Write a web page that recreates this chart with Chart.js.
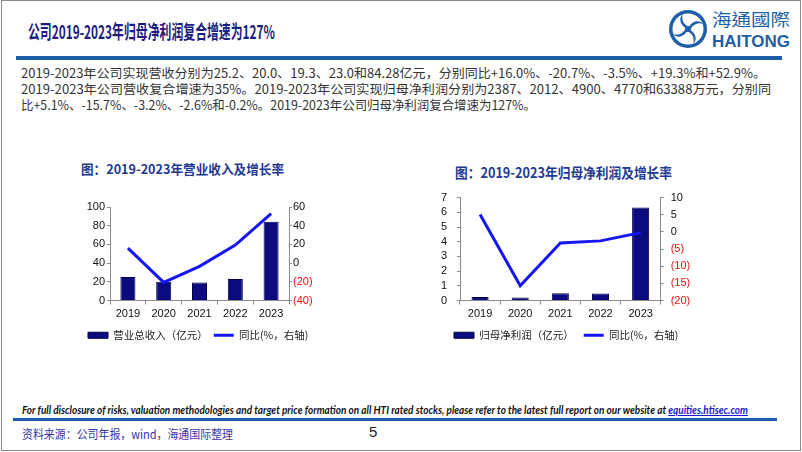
<!DOCTYPE html>
<html><head><meta charset="utf-8">
<script src="https://cdn.jsdelivr.net/npm/chart.js@4.4.1/dist/chart.umd.min.js"></script>
<style>
html,body{margin:0;padding:0;background:#fff;}
body{width:802px;height:452px;position:relative;overflow:hidden;font-family:"Noto Sans CJK SC","Noto Sans",sans-serif;}
.t{position:absolute;white-space:nowrap;}
.t span.f{display:inline-block;transform-origin:0 50%;}
#frame{position:absolute;left:1px;top:0;width:798px;height:449px;border:1px solid #8a8a8a;}
.band{position:absolute;background:#1d5ca8;}
canvas{position:absolute;}
</style></head>
<body>
<div id="frame"></div>

<div class="t" style="left:28px;top:19px;height:24px;line-height:24px;font-size:19px;font-weight:700;color:#1b1b80;"><span class="f" data-w="247">公司2019-2023年归母净利润复合增速为127%</span></div>
<svg style="position:absolute;left:664px;top:6px" width="134" height="48" viewBox="0 0 134 48">
  <circle cx="24" cy="23" r="19" fill="#1f5fa8"/>
  <circle cx="24" cy="23" r="15.5" fill="#fff"/>
  <g transform="translate(24,23)" fill="#1f5fa8">
    <path d="M0,0 C3,-8 11,-10 15,-5 C10,-7 5,-5 2,1 Z"/>
    <path d="M0,0 C3,-8 11,-10 15,-5 C10,-7 5,-5 2,1 Z" transform="rotate(90)"/>
    <path d="M0,0 C3,-8 11,-10 15,-5 C10,-7 5,-5 2,1 Z" transform="rotate(180)"/>
    <path d="M0,0 C3,-8 11,-10 15,-5 C10,-7 5,-5 2,1 Z" transform="rotate(270)"/>
    <circle cx="0" cy="0" r="3"/>
  </g>
  <text x="48" y="20" font-family="Noto Sans CJK TC" font-size="17" fill="#1f5fa8" textLength="78" lengthAdjust="spacingAndGlyphs">海通國際</text>
  <text x="48" y="41" font-family="Liberation Sans" font-weight="700" font-size="16" fill="#1f5fa8" textLength="78" lengthAdjust="spacingAndGlyphs">HAITONG</text>
</svg>
<div class="band" style="left:16px;top:56px;width:766px;height:4px;"></div>

<div class="t" style="left:21px;top:65px;height:16px;line-height:16px;font-size:12.5px;color:#333;"><span class="f" data-w="745">2019-2023年公司实现营收分别为25.2、20.0、19.3、23.0和84.28亿元，分别同比+16.0%、-20.7%、-3.5%、+19.3%和+52.9%。</span></div>
<div class="t" style="left:21px;top:81px;height:16px;line-height:16px;font-size:12.5px;color:#333;"><span class="f" data-w="750">2019-2023年公司营收复合增速为35%。2019-2023年公司实现归母净利润分别为2387、2012、4900、4770和63388万元，分别同</span></div>
<div class="t" style="left:21px;top:97px;height:16px;line-height:16px;font-size:12.5px;color:#333;"><span class="f" data-w="515">比+5.1%、-15.7%、-3.2%、-2.6%和-0.2%。2019-2023年公司归母净利润复合增速为127%。</span></div>

<div class="t" style="left:81px;top:161px;height:16px;line-height:16px;font-size:13px;font-weight:700;color:#1f3a93;"><span class="f" data-w="203">图：2019-2023年营业收入及增长率</span></div>
<div class="t" style="left:455px;top:164px;height:16px;line-height:16px;font-size:14px;font-weight:700;color:#1f3a93;"><span class="f" data-w="217">图：2019-2023年归母净利润及增长率</span></div>

<canvas id="c1" width="280" height="176" style="left:40px;top:175px;"></canvas>
<canvas id="c2" width="310" height="171" style="left:400px;top:180px;"></canvas>

<div class="t" style="left:22px;top:403px;height:14px;line-height:14px;font-size:10.5px;font-weight:700;font-style:italic;font-family:Lato,'Open Sans',sans-serif;color:#111;"><span class="f" data-w="726">For full disclosure of risks, valuation methodologies and target price formation on all HTI rated stocks, please refer to the latest full report on our website at <span style="color:#1a1acc;text-decoration:underline;">equities.htisec.com</span></span></div>
<div class="band" style="left:13px;top:418px;width:764px;height:3px;"></div>
<div class="t" style="left:22px;top:426px;height:16px;line-height:16px;font-size:12px;color:#3535a5;"><span class="f" data-w="211">资料来源：公司年报，wind，海通国际整理</span></div>
<div class="t" style="left:369px;top:423px;height:18px;line-height:18px;font-size:15px;color:#222;font-family:'Liberation Sans',sans-serif;">5</div>

<script>
// ---- data ----
const years = ['2019', '2020', '2021', '2022', '2023'];
const revenue = [25.2, 20.0, 19.3, 23.0, 84.28];          // 亿元
const revenueYoY = [16.0, -20.7, -3.5, 19.3, 52.9];      // %
const profit = [0.2387, 0.2012, 0.4900, 0.4770, 6.3388]; // 亿元
const profitYoY = [5.1, -15.7, -3.2, -2.6, -0.2];        // %
const revAxis = [0, 100, 20];      // min, max, step
const revYoYAxis = [-40, 60, 20];
const profAxis = [0, 7, 1];
const profYoYAxis = [-20, 10, 5];
const legendRev = ['营业总收入（亿元）', '同比(%，右轴)'];
const legendProf = ['归母净利润（亿元）', '同比(%，右轴)'];

const BAR = '#0b0b7d', BARB = '#00004d', LINE = '#1515f5', RED = '#ee1111', AX = '#8c8c8c';
const tickFont = {family: 'Liberation Sans', size: 11};

function fitTexts() {
  document.querySelectorAll('span.f').forEach(el => {
    const w = el.getBoundingClientRect().width;
    const target = +el.dataset.w;
    if (w > 0) el.style.transform = 'scaleX(' + (target / w) + ')';
  });
}

// places the legend row at a given x inside the canvas
const legendShift = {
  id: 'legendShift',
  beforeDraw(chart, args, opts) {
    if (chart.legend && opts && opts.left != null) chart.legend.left = opts.left;
  }
};

function makeChart(id, g, bars, yoy, axL, axR, labels) {
  const fmtR = v => v < 0 ? '(' + Math.abs(v) + ')' : String(v);
  return new Chart(document.getElementById(id), {
    type: 'bar',
    plugins: [legendShift],
    data: {
      labels: years,
      datasets: [
        {type: 'bar', label: labels[0], data: bars, yAxisID: 'y', order: 1,
         backgroundColor: BAR, borderColor: BARB, borderWidth: 1,
         barPercentage: g.barPct, categoryPercentage: 1, pointStyle: 'rect'},
        {type: 'line', label: labels[1], data: yoy, yAxisID: 'y1', order: 0,
         borderColor: LINE, backgroundColor: LINE, borderWidth: 3, tension: 0,
         pointRadius: 0, pointHoverRadius: 0, pointStyle: 'line',
         pointBorderColor: LINE, pointBackgroundColor: LINE, pointBorderWidth: 3}
      ]
    },
    options: {
      responsive: false, animation: false, devicePixelRatio: 1,
      layout: {padding: g.pad},
      plugins: {
        title: {display: false}, tooltip: {enabled: false},
        legendShift: {left: g.legLeft},
        legend: {
          position: 'bottom', align: 'start',
          labels: {
            usePointStyle: true, pointStyleWidth: 20, boxWidth: 20, boxHeight: 6,
            padding: g.legPad, color: '#222',
            font: {family: 'Noto Sans CJK SC', size: 10.5},
            sort: (a, b) => a.datasetIndex - b.datasetIndex
          }
        }
      },
      scales: {
        x: {
          grid: {display: true, drawOnChartArea: false, tickLength: 4, color: AX, offset: true},
          border: {color: AX},
          ticks: {font: tickFont, color: '#111', padding: 3, maxRotation: 0, autoSkip: false},
          afterFit: s => { s.height = g.xH; }
        },
        y: {
          position: 'left', min: axL[0], max: axL[1],
          grid: {drawOnChartArea: false, tickLength: 3, color: AX},
          border: {color: AX},
          ticks: {stepSize: axL[2], font: tickFont, color: '#111', padding: g.yPad, autoSkip: false},
          afterFit: s => { s.width = g.yW; }
        },
        y1: {
          position: 'right', min: axR[0], max: axR[1],
          grid: {drawOnChartArea: false, tickLength: 3, color: AX},
          border: {color: AX},
          ticks: {stepSize: axR[2], font: tickFont, padding: g.y1Pad, autoSkip: false,
                  callback: v => fmtR(v),
                  color: c => (c.tick && c.tick.value < 0) ? RED : '#111'},
          afterFit: s => { s.width = g.y1W; }
        }
      }
    }
  });
}

function draw() {
  fitTexts();
  makeChart('c1', {pad: {left: 0, top: 32, right: 0, bottom: 0.5}, legPad: 6, legLeft: 42, xH: 23.5,
                   yW: 70, y1W: 31, yPad: 2, y1Pad: 1, barPct: 0.42},
            revenue, revenueYoY, revAxis, revYoYAxis, legendRev);
  makeChart('c2', {pad: {left: 0, top: 17.7, right: 0, bottom: 0.5}, legPad: 10, legLeft: 44, xH: 19.5,
                   yW: 60, y1W: 49.3, yPad: 10, y1Pad: 7, barPct: 0.425},
            profit, profitYoY, profAxis, profYoYAxis, legendProf);
}
if (document.fonts && document.fonts.ready) document.fonts.ready.then(draw); else draw();
</script>
</body></html>
